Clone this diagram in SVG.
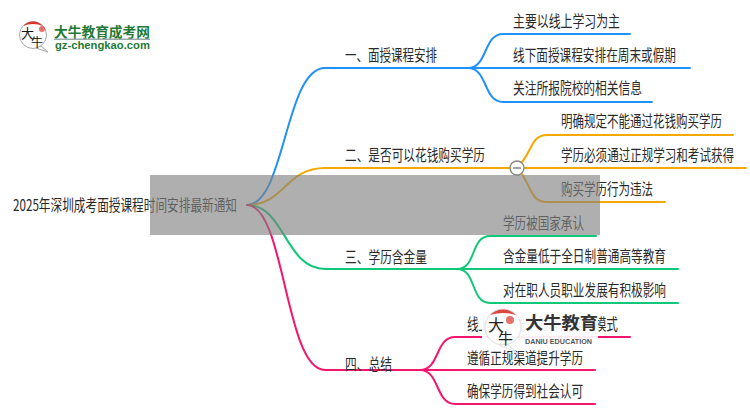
<svg xmlns="http://www.w3.org/2000/svg" width="750" height="410" viewBox="0 0 750 410">
<style>
text{font-family:"Noto Sans CJK SC","Liberation Sans",sans-serif;fill:#2a2a2a;font-size:15.5px}
.c{fill:none;stroke-width:2;stroke-linecap:round}
.b{stroke:#2090fa}.o{stroke:#f5a800}.g{stroke:#10c878}.p{stroke:#f5146e}
.lg{fill:#1f7a35;font-weight:700}
</style>
<rect width="750" height="410" fill="#fff"/>
<g id="connectors">
<path class="c b" d="M247 205C285 205 285 68 325 68H468"/>
<path class="c o" d="M247 205C285 205 285 168 325 168H510"/>
<path class="c g" d="M247 205C285 205 285 269 325 269H457"/>
<path class="c p" d="M247 205C285 205 285 370 325 370H420"/>
<path class="c b" d="M468 68C488 68 483 34 503 34H630"/>
<path class="c b" d="M468 68H690"/>
<path class="c b" d="M468 68C488 68 483 102 503 102H652"/>
<path class="c o" d="M522 162C532 150 532 135 547 135H733"/>
<path class="c o" d="M524 168H746"/>
<path class="c o" d="M522 174C532 190 532 202 547 202H665"/>
<path class="c g" d="M457 269C477 269 470 236 490 236H596"/>
<path class="c g" d="M457 269H678"/>
<path class="c g" d="M457 269C477 269 470 303 490 303H678"/>
<path class="c p" d="M420 370C440 370 435 337 455 337H630"/>
<path class="c p" d="M420 370H595"/>
<path class="c p" d="M420 370C440 370 435 404 455 404H595"/>
</g>
<g id="root"><text x="13" y="211" textLength="224" lengthAdjust="spacingAndGlyphs">2025年深圳成考面授课程时间安排最新通知</text></g>
<g id="n1"><text x="345" y="60.5" textLength="92" lengthAdjust="spacingAndGlyphs">一、面授课程安排</text></g>
<g id="n2"><text x="345" y="160.5" textLength="140" lengthAdjust="spacingAndGlyphs">二、是否可以花钱购买学历</text></g>
<g id="n3"><text x="345" y="262.5" textLength="82" lengthAdjust="spacingAndGlyphs">三、学历含金量</text></g>
<g id="n4"><text x="345" y="369.5" textLength="47" lengthAdjust="spacingAndGlyphs">四、总结</text></g>
<g id="n1a"><text x="513" y="27" textLength="107" lengthAdjust="spacingAndGlyphs">主要以线上学习为主</text></g>
<g id="n1b"><text x="513" y="61" textLength="163" lengthAdjust="spacingAndGlyphs">线下面授课程安排在周末或假期</text></g>
<g id="n1c"><text x="513" y="94" textLength="129" lengthAdjust="spacingAndGlyphs">关注所报院校的相关信息</text></g>
<g id="toggle"><circle cx="517" cy="168" r="7" fill="#fff" stroke="#888" stroke-width="1.4"/><path d="M513 168H521" stroke="#666" stroke-width="1.2"/></g>
<g id="n2a"><text x="561" y="127" textLength="161" lengthAdjust="spacingAndGlyphs">明确规定不能通过花钱购买学历</text></g>
<g id="n2b"><text x="561" y="161" textLength="173" lengthAdjust="spacingAndGlyphs">学历必须通过正规学习和考试获得</text></g>
<g id="n2c"><text x="561" y="195" textLength="92" lengthAdjust="spacingAndGlyphs">购买学历行为违法</text></g>
<g id="n3a"><text x="503" y="229" textLength="81" lengthAdjust="spacingAndGlyphs">学历被国家承认</text></g>
<g id="n3b"><text x="503" y="262" textLength="163" lengthAdjust="spacingAndGlyphs">含金量低于全日制普通高等教育</text></g>
<g id="n3c"><text x="503" y="296" textLength="163" lengthAdjust="spacingAndGlyphs">对在职人员职业发展有积极影响</text></g>
<g id="n4a"><text x="467" y="330" textLength="151" lengthAdjust="spacingAndGlyphs">线上为主线下为辅的学习模式</text></g>
<g id="n4b"><text x="467" y="364" textLength="116" lengthAdjust="spacingAndGlyphs">遵循正规渠道提升学历</text></g>
<g id="n4c"><text x="467" y="397" textLength="116" lengthAdjust="spacingAndGlyphs">确保学历得到社会认可</text></g>
<rect x="150" y="175" width="450" height="60" fill="#808080" fill-opacity=".63"/>
<g id="logo-top">
<circle cx="33" cy="35" r="13.5" fill="#fff" stroke="#aaa"/>
<path d="M23 26A13.5 13.5 0 0 1 43 26Q33 22 23 26Z" fill="#d9342b"/>
<circle cx="42" cy="29" r="3" fill="#d9342b" fill-opacity=".7"/>
<path d="M41 46L48 52L36 48Z" fill="#fff" stroke="#aaa"/>
<text x="21" y="38" style="fill:#111;font-size:13px">大</text><text x="31" y="47" style="fill:#111;font-size:12px">牛</text>
<text class="lg" x="54" y="37" style="font-size:13.5px" textLength="96" lengthAdjust="spacingAndGlyphs">大牛教育成考网</text>
<rect x="54" y="38.5" width="96" height="1.5" fill="#9aa"/>
<text class="lg" x="55" y="49" style="font-size:10px;font-family:'Liberation Sans',sans-serif" textLength="95" lengthAdjust="spacingAndGlyphs">gz-chengkao.com</text>
</g>
<g id="logo-bottom">
<rect x="482" y="309" width="116" height="38" fill="#fff" fill-opacity=".92"/>
<circle cx="503" cy="327" r="18" fill="#fff" fill-opacity=".85" stroke="#ddd"/>
<path d="M507 344L516 352L499 345Z" fill="#fff" fill-opacity=".85" stroke="#ddd"/>
<path d="M490 315A18 18 0 0 1 516 315Q503 311 490 315Z" fill="#d9342b" fill-opacity=".9"/>
<circle cx="510" cy="320" r="4" fill="#d9342b" fill-opacity=".7"/>
<text x="488" y="331" style="fill:#222;font-size:16px">大</text><text x="498" y="344" style="fill:#222;font-size:15px">牛</text>
<text x="525" y="329" style="fill:#333;font-size:17px;font-weight:700" textLength="73" lengthAdjust="spacingAndGlyphs">大牛教育</text>
<text x="525" y="344" style="fill:#555;font-size:7px;font-weight:700;font-family:'Liberation Sans',sans-serif" textLength="67" lengthAdjust="spacingAndGlyphs">DANIU EDUCATION</text>
</g>
</svg>
